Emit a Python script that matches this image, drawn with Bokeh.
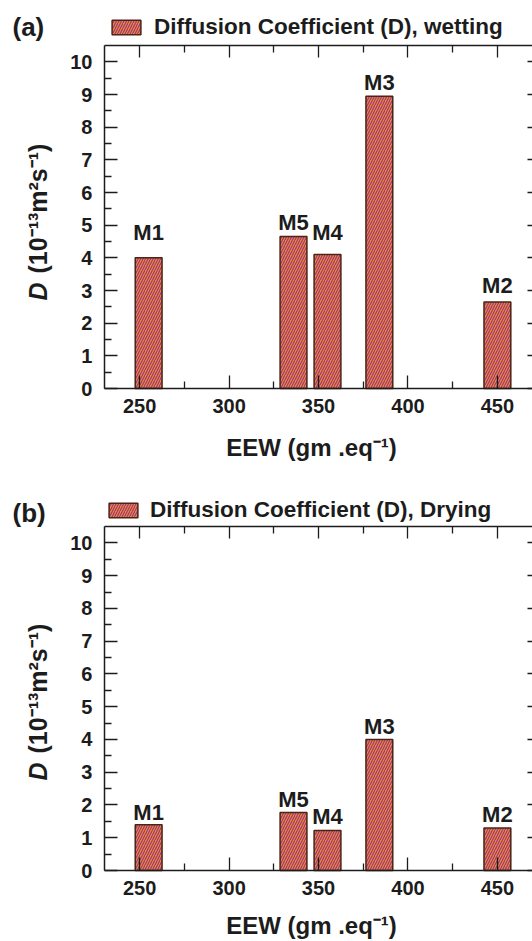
import math
from bokeh.plotting import figure
from bokeh.layouts import column
from bokeh.models import (ColumnDataSource, Label, Legend, LegendItem, LinearAxis,
                          FixedTicker, Range1d)
from bokeh.embed import file_html
from bokeh.resources import INLINE

# ---------------- data ----------------
membranes = ["M1", "M5", "M4", "M3", "M2"]
eew = [255, 336, 355, 384, 450]            # EEW (gm eq^-1)
d_wetting = [4.0, 4.65, 4.1, 8.95, 2.65]    # D (1e-13 m2/s), wetting
d_drying = [1.4, 1.77, 1.22, 4.0, 1.3]      # D (1e-13 m2/s), drying
x_major = [250, 300, 350, 400, 450]
x_minor = [275, 325, 375, 425]
y_major = [0, 1, 2, 3, 4, 5, 6, 7, 8, 9, 10]
y_minor = [0.5, 1.5, 2.5, 3.5, 4.5, 5.5, 6.5, 7.5, 8.5, 9.5]
X_LO, X_HI = 230.3, 469.63     # axis extent (EEW)
Y_LO, Y_HI = 0, 10.5           # axis extent (D)

FONT = "Liberation Sans"
INK = "#1c1c1c"
FILL = "#F7861E"
HATCH = "#8E3599"
EDGE = "#4a2418"
W = 532
PX_PER_X = 1.7885             # pixels per EEW unit
X0_PX = 139.2                 # pixel column of EEW = 250


def style_axis(ax, tin, mtin):
    ax.axis_line_color = INK
    ax.axis_line_width = 1.5
    ax.major_tick_line_color = INK
    ax.major_tick_line_width = 1.3
    ax.minor_tick_line_color = INK
    ax.minor_tick_line_width = 1.3
    ax.major_tick_out = 0
    ax.minor_tick_out = 0
    ax.major_tick_in = tin
    ax.minor_tick_in = mtin
    ax.major_label_text_font = FONT
    ax.major_label_text_font_style = "bold"
    ax.major_label_text_color = INK
    ax.major_label_text_font_size = "20px"


def make_panel(tag, values, legend_text, label_gaps, height, y0_px, px_per_y,
               legend_xy, legend_standoff, tag_y, ylab_y, xlab_y):
    # frame covers the whole canvas; axes are drawn at fixed data locations
    x_start = 250 - X0_PX / PX_PER_X
    x_end = 250 + (W - X0_PX) / PX_PER_X
    y_start = -(height - y0_px) / px_per_y
    y_end = y0_px / px_per_y
    p = figure(width=W, height=height,
               x_range=Range1d(x_start, x_end), y_range=Range1d(y_start, y_end),
               x_axis_location=None, y_axis_location=None,
               output_backend="svg", toolbar_location=None,
               min_border_left=0, min_border_right=0,
               min_border_top=0, min_border_bottom=0)
    p.grid.visible = False
    p.outline_line_color = None
    p.background_fill_color = "white"

    src = ColumnDataSource(dict(x=eew, top=values, name=membranes,
                                off=[-(g + 8) for g in label_gaps]))
    bars = p.vbar(x="x", top="top", bottom=0, width=15, source=src,
                  fill_color=FILL, line_color=EDGE, line_width=1.5,
                  hatch_pattern="/", hatch_color=HATCH, hatch_scale=5,
                  hatch_weight=1.1)
    p.text(x="x", y="top", text="name", y_offset="off", source=src,
           text_align="center", text_baseline="middle",
           text_font_size="22px", text_font_style="bold", text_color=INK,
           text_font={"value": FONT})

    xa = LinearAxis(fixed_location=Y_LO, bounds=(X_LO, X_HI),
                    ticker=FixedTicker(ticks=x_major, minor_ticks=x_minor))
    style_axis(xa, 13, 7)
    xa.major_label_standoff = 10
    p.add_layout(xa, "below")

    ya = LinearAxis(fixed_location=X_LO, bounds=(Y_LO, Y_HI),
                    ticker=FixedTicker(ticks=y_major, minor_ticks=y_minor))
    style_axis(ya, 13, 7)
    ya.major_label_standoff = 12
    p.add_layout(ya, "left")

    ta = LinearAxis(fixed_location=Y_HI, bounds=(X_LO, X_HI),
                    ticker=FixedTicker(ticks=x_major, minor_ticks=x_minor))
    style_axis(ta, 12, 7)
    ta.major_label_text_color = None
    p.add_layout(ta, "above")

    ra = LinearAxis(fixed_location=X_HI, bounds=(Y_LO, Y_HI),
                    ticker=FixedTicker(ticks=y_major, minor_ticks=[]))
    style_axis(ra, 5, 0)
    ra.axis_line_color = None
    ra.minor_tick_line_color = None
    ra.major_label_text_color = None
    p.add_layout(ra, "right")

    legend = Legend(items=[LegendItem(label=legend_text, renderers=[bars])],
                    location=legend_xy, orientation="horizontal",
                    glyph_width=36, glyph_height=18, label_height=18,
                    label_standoff=legend_standoff, padding=0, margin=0,
                    spacing=0, border_line_color=None,
                    background_fill_alpha=0,
                    label_text_font=FONT, label_text_font_style="bold",
                    label_text_font_size="22.5px", label_text_color=INK)
    p.add_layout(legend)

    p.add_layout(Label(x=12, y=tag_y, x_units="screen", y_units="screen",
                       text=tag, text_font=FONT, text_font_style="bold",
                       text_font_size="26px", text_color=INK,
                       text_baseline="middle"))
    # y-axis title: italic D followed by the units
    p.add_layout(Label(x=37, y=ylab_y, x_units="screen", y_units="screen",
                       text="D", angle=math.pi / 2, text_font=FONT,
                       text_font_style="bold italic", text_font_size="25px",
                       text_color=INK, text_baseline="middle"))
    p.add_layout(Label(x=37, y=ylab_y + 27, x_units="screen", y_units="screen",
                       text="(10\u207b\u00b9\u00b3m\u00b2s\u207b\u00b9)",
                       angle=math.pi / 2, text_font=FONT,
                       text_font_style="bold", text_font_size="25px",
                       text_color=INK, text_baseline="middle"))
    # x-axis title
    p.add_layout(Label(x=311, y=xlab_y, x_units="screen", y_units="screen",
                       text="EEW (gm .eq\u207b\u00b9)", text_font=FONT,
                       text_font_style="bold", text_font_size="24px",
                       text_color=INK, text_align="center",
                       text_baseline="middle"))
    return p


pa = make_panel("(a)", d_wetting, "Diffusion Coefficient (D), wetting",
                [17, 6, 14, 6, 8], 470, 388, 343 / 10.5,
                (108, 430), 10, 444, 170, 23)
pb = make_panel("(b)", d_drying, "Diffusion Coefficient (D), Drying",
                [4, 5, 6, 5, 5], 471, 400, 344 / 10.5,
                (105, 418), 9, 429, 161, 16)

layout = column(pa, pb, spacing=0)
open("out.html", "w").write(file_html(layout, INLINE))
